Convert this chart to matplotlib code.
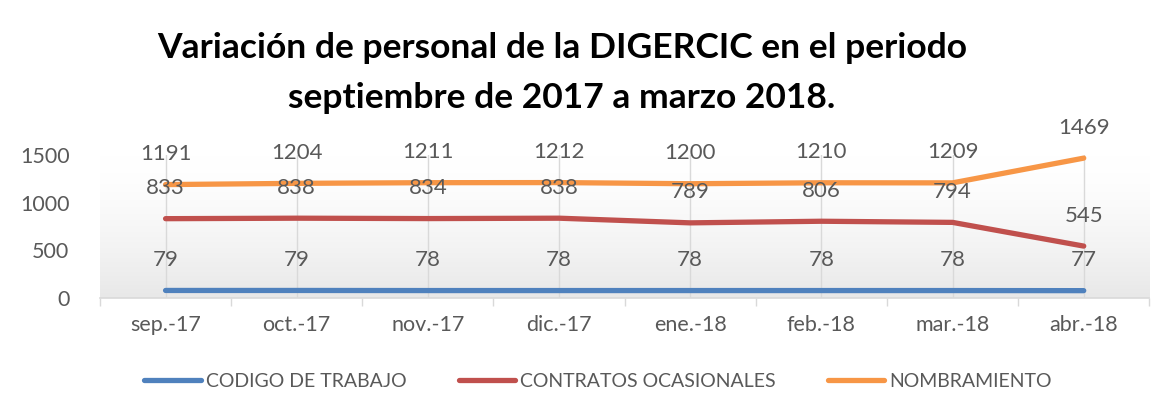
import numpy as np
import matplotlib.pyplot as plt

# datos de la grafica
meses = ["sep.-17", "oct.-17", "nov.-17", "dic.-17", "ene.-18", "feb.-18", "mar.-18", "abr.-18"]
codigo_trabajo = [79, 79, 78, 78, 78, 78, 78, 77]
contratos_ocasionales = [833, 838, 834, 838, 789, 806, 794, 545]
nombramiento = [1191, 1204, 1211, 1212, 1200, 1210, 1209, 1469]

series = [
    ("CODIGO DE TRABAJO", codigo_trabajo, "#4F81BD"),
    ("CONTRATOS OCASIONALES", contratos_ocasionales, "#C0504D"),
    ("NOMBRAMIENTO", nombramiento, "#F79646"),
]

plt.rcParams['font.family'] = ['Lato', 'DejaVu Sans']
gris = "#595959"

fig = plt.figure(figsize=(11.68, 4.16), dpi=100)
ax = fig.add_axes([0.0856, 0.2837, 0.8984, 0.3433])

x = np.arange(len(meses))

# fondo degradado del area de trazado (blanco arriba, gris claro abajo)
t = np.linspace(0, 1, 100).reshape(-1, 1, 1) ** 1.5
arriba = np.array([1.0, 1.0, 1.0])
abajo = np.array([0.91, 0.91, 0.91])
grad = arriba * (1 - t) + abajo * t
ax.imshow(grad, extent=[-0.5, 7.5, 0, 1500], aspect='auto', zorder=0,
          origin='upper', interpolation='bilinear')

for i in x:
    ax.axvline(i, color="#d9d9d9", lw=1, zorder=1)

for nombre, valores, color in series:
    ax.plot(x, valores, color=color, lw=3.8, label=nombre, zorder=3,
            solid_capstyle='round')
    for xi, v in zip(x, valores):
        ax.annotate(str(v), (xi, v), xytext=(0, 22), textcoords='offset points',
                    ha='center', va='center', fontsize=16, color=gris,
                    annotation_clip=False, zorder=4)

ax.set_xlim(-0.5, 7.5)
ax.set_ylim(0, 1500)
ax.set_yticks([0, 500, 1000, 1500])
ax.set_xticks(x)
ax.set_xticklabels(meses)
ax.set_xticks(np.arange(-0.5, 8, 1), minor=True)
ax.tick_params(axis='x', which='major', length=0, pad=12, labelsize=15.5, labelcolor=gris)
ax.tick_params(axis='x', which='minor', length=6, color="#d9d9d9", width=1)
ax.tick_params(axis='y', length=0, pad=22, labelsize=15.5, labelcolor=gris)
for s in ["top", "right", "left"]:
    ax.spines[s].set_visible(False)
ax.spines["bottom"].set_color("#d9d9d9")
ax.spines["bottom"].set_linewidth(1.2)

fig.text(0.481, 0.885, "Variación de personal de la DIGERCIC en el periodo",
         ha='center', va='center', fontsize=25.5, fontweight='bold', color='black')
fig.text(0.481, 0.765, "septiembre de 2017 a marzo 2018.",
         ha='center', va='center', fontsize=25.5, fontweight='bold', color='black')

fig.legend(loc='center', bbox_to_anchor=(0.512, 0.084), ncol=3, frameon=False,
           fontsize=14, handlelength=2.9, handletextpad=0.25, columnspacing=2.7,
           labelcolor=gris)

fig.savefig("out.png", dpi=100)
